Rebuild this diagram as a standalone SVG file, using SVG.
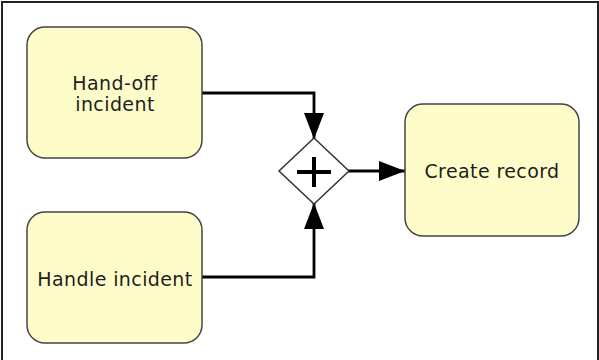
<svg xmlns="http://www.w3.org/2000/svg" width="599" height="360" viewBox="0 0 599 360">
<defs>
<style>
.task{fill:#fefdc9;stroke:#444;stroke-width:1.5}
.lbl{font-family:"DejaVu Sans",sans-serif;font-size:19px;letter-spacing:0.4px;fill:#1e1e1e;text-anchor:middle}
.flow{fill:none;stroke:#000;stroke-width:2.8}
</style>
<marker id="ah" viewBox="0 0 26 20" refX="26" refY="10" markerWidth="26" markerHeight="20" markerUnits="userSpaceOnUse" orient="auto">
<path d="M0,0 L26,10 L0,20 Z" fill="#000"/>
</marker>
</defs>
<rect width="599" height="360" fill="#fff"/>
<path d="M2,360 V2 H598 V360" fill="none" stroke="#222" stroke-width="2"/>
<g id="connectors">
<path class="flow" d="M202,93 H314 V139" marker-end="url(#ah)"/>
<path class="flow" d="M202,277 H314 V203" marker-end="url(#ah)"/>
<path class="flow" d="M348,171 H405" marker-end="url(#ah)"/>
</g>
<g id="handoff">
<rect class="task" x="27" y="27" width="175" height="131" rx="18"/>
<text class="lbl" x="115" y="90">Hand-off</text>
<text class="lbl" x="115" y="111">incident</text>
</g>
<g id="handle">
<rect class="task" x="27" y="212" width="175" height="131" rx="18"/>
<text class="lbl" x="115" y="286">Handle incident</text>
</g>
<g id="gateway">
<path d="M314,138 L349,171 L314,204 L279,171 Z" fill="#fff" stroke="#333" stroke-width="1.5"/>
<path d="M297,172 H331 M314,157 V187" stroke="#000" stroke-width="4"/>
</g>
<g id="create">
<rect class="task" x="405" y="104" width="174" height="132" rx="18"/>
<text class="lbl" x="492" y="178">Create record</text>
</g>
</svg>
